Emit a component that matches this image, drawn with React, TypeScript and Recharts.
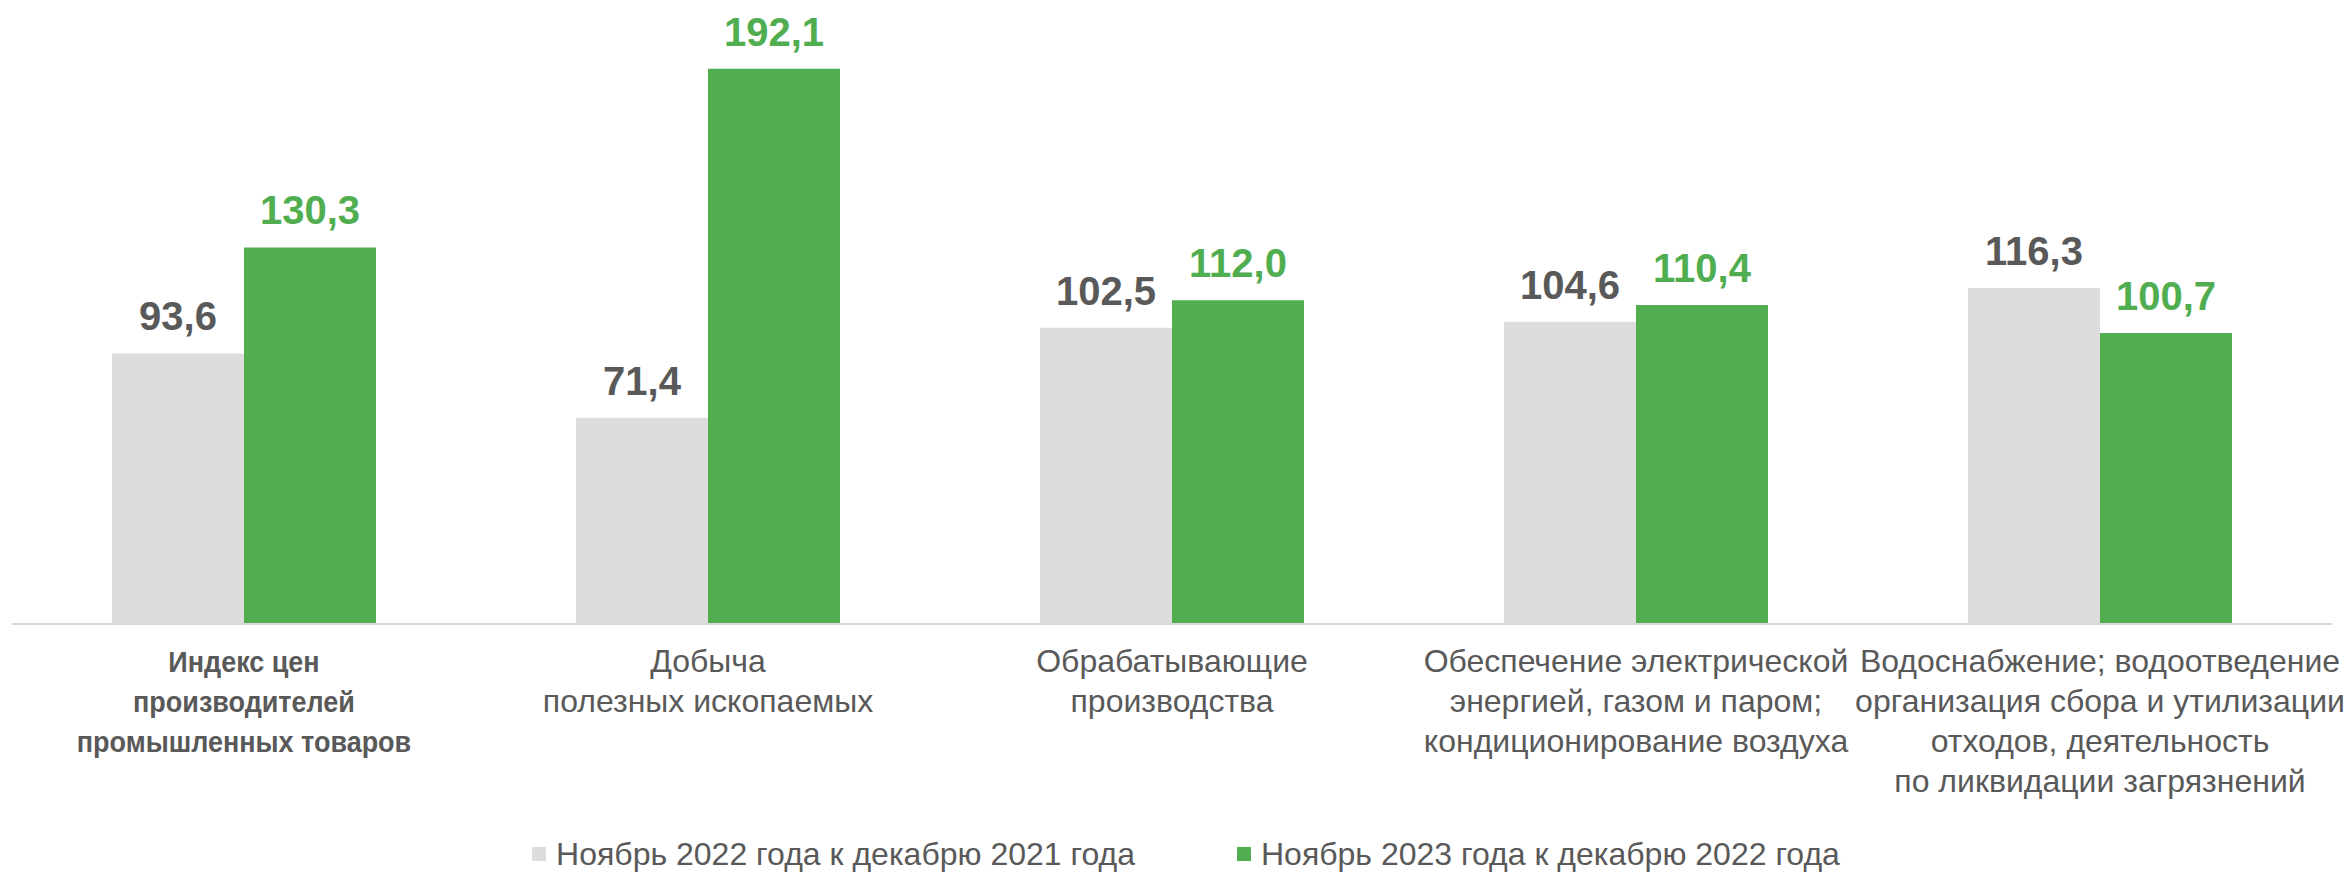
import React from 'react';
import { BarChart, Bar, XAxis, YAxis, Legend, LabelList } from 'recharts';

const categories = [
  'Индекс цен производителей промышленных товаров',
  'Добыча полезных ископаемых',
  'Обрабатывающие производства',
  'Обеспечение электрической энергией, газом и паром; кондиционирование воздуха',
  'Водоснабжение; водоотведение организация сбора и утилизации отходов, деятельность по ликвидации загрязнений',
];

const categoryLines: string[][] = [
  ['Индекс цен', 'производителей', 'промышленных товаров'],
  ['Добыча', 'полезных ископаемых'],
  ['Обрабатывающие', 'производства'],
  ['Обеспечение электрической', 'энергией, газом и паром;', 'кондиционирование воздуха'],
  ['Водоснабжение; водоотведение', 'организация сбора и утилизации', 'отходов, деятельность', 'по ликвидации загрязнений'],
];

const series2022 = [93.6, 71.4, 102.5, 104.6, 116.3];
const series2023 = [130.3, 192.1, 112.0, 110.4, 100.7];

const seriesNames = ['Ноябрь 2022 года к декабрю 2021 года', 'Ноябрь 2023 года к декабрю 2022 года'];

const GRAY = '#DDDDDD';
const GREEN = '#50AE50';
const TEXT = '#595959';
const FONT = '"Liberation Sans", Arial, Helvetica, sans-serif';

const data = categories.map((c, i) => ({
  name: c,
  idx: i,
  v2022: series2022[i],
  v2023: series2023[i],
}));

const fmt = (v: number) => v.toFixed(1).replace('.', ',');

const CategoryTick = (props: any) => {
  const { x, y, payload } = props;
  const i = categories.indexOf(payload.value);
  const lines = categoryLines[i] || [payload.value];
  const bold = i === 0;
  return (
    <text
      x={x}
      y={y}
      textAnchor="middle"
      fill={TEXT}
      fontFamily={FONT}
      fontSize={bold ? 30 : 32}
      fontWeight={bold ? 700 : 400}
      transform={bold ? `translate(${x} 0) scale(0.9 1) translate(${-x} 0)` : undefined}
    >
      {lines.map((l, k) => (
        <tspan key={k} x={x} y={y + 48 + k * 40}>
          {l}
        </tspan>
      ))}
    </text>
  );
};

const makeLabel = (color: string) => (props: any) => {
  const { x, y, width, value } = props;
  return (
    <text
      x={x + width / 2}
      y={y - 23}
      textAnchor="middle"
      fill={color}
      fontFamily={FONT}
      fontSize={40}
      fontWeight={700}
    >
      {fmt(value)}
    </text>
  );
};

const LegendContent = () => (
  <div
    style={{
      display: 'flex',
      justifyContent: 'center',
      paddingLeft: 28,
      paddingTop: 26,
      fontFamily: FONT,
      fontSize: 32,
      lineHeight: '32px',
      color: TEXT,
    }}
  >
    {[GRAY, GREEN].map((c, i) => (
      <div key={i} style={{ display: 'flex', alignItems: 'center', marginRight: i === 0 ? 102 : 0 }}>
        <span style={{ display: 'inline-block', width: 14, height: 14, background: c, marginRight: 10 }} />
        <span style={{ whiteSpace: 'nowrap' }}>{seriesNames[i]}</span>
      </div>
    ))}
  </div>
);

export default function App() {
  return (
    <div style={{ position: 'absolute', left: 0, top: 0, width: 2346, height: 872, background: '#fff' }}>
      <BarChart
        width={2346}
        height={872}
        data={data}
        margin={{ top: 46, right: 14, left: 12, bottom: 0 }}
        barGap={0}
        barSize={132}
      >
        <XAxis
          dataKey="name"
          axisLine={{ stroke: '#D9D9D9', strokeWidth: 2 }}
          tickLine={false}
          tickSize={0}
          tickMargin={0}
          interval={0}
          height={188}
          tick={<CategoryTick />}
        />
        <YAxis hide domain={[0, 200]} />
        <Legend verticalAlign="bottom" height={60} content={<LegendContent />} />
        <Bar dataKey="v2022" name={seriesNames[0]} fill={GRAY} isAnimationActive={false}>
          <LabelList dataKey="v2022" content={makeLabel(TEXT)} />
        </Bar>
        <Bar dataKey="v2023" name={seriesNames[1]} fill={GREEN} isAnimationActive={false}>
          <LabelList dataKey="v2023" content={makeLabel(GREEN)} />
        </Bar>
      </BarChart>
    </div>
  );
}
